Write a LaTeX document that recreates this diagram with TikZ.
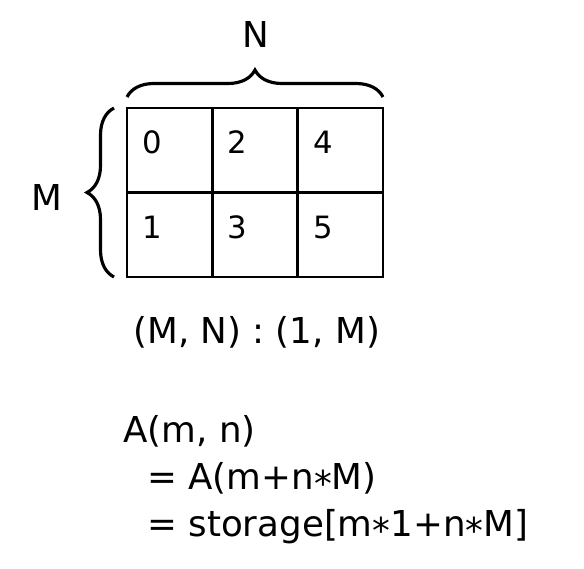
\documentclass[tikz,border=0pt]{standalone}
\usepackage{fontspec}
\setmainfont{DejaVu Sans}
\usetikzlibrary{decorations.pathreplacing}
\newcommand\mul{\raisebox{-0.2em}{*}}
\begin{document}
\begin{tikzpicture}[x=0.02cm,y=-0.02cm,
  txt/.style={inner sep=0pt,font=\fontsize{20.3}{24}\selectfont},
  num/.style={inner sep=0pt,anchor=base west,font=\fontsize{17.5}{20}\selectfont},
  brace/.style={line width=1.8pt,decorate,decoration={brace,amplitude=0.54cm}}]
\useasboundingbox (0,0) rectangle (584,568);

% the M x N matrix, column major
\coordinate (tl) at (127,108);
\coordinate (br) at (383,277);
\draw[line width=1.6pt] (tl) rectangle (br);
\foreach \c in {0,1,2}{
  \foreach \r in {0,1}{
    \pgfmathtruncatemacro{\k}{2*\c+\r}
    \node[num] (c\k) at (127+85.33*\c+15,153+85*\r) {\k};
  }
}
\draw[line width=1.6pt] (212.3,108) -- (212.3,277);
\draw[line width=1.6pt] (297.7,108) -- (297.7,277);
\draw[line width=1.6pt] (127,192.5) -- (383,192.5);

% braces
\coordinate (nl) at (127,97);
\coordinate (nr) at (383,97);
\coordinate (mt) at (114,108);
\coordinate (mb) at (114,277);
\draw[brace] (nl) -- (nr);
\draw[brace] (mb) -- (mt);
\node[txt,anchor=base] (N) at (256,47) {N};
\node[txt,anchor=base] (M) at (47,210) {M};

% layout and index formula
\node[txt,anchor=base west] (layout) at (133,343) {(M, N) : (1, M)};
\node[txt,anchor=base west] (f1) at (123,442) {A(m, n)};
\node[txt,anchor=base west] (f2) at (147,489) {= A(m+n\mul M)};
\node[txt,anchor=base west] (f3) at (147,536) {= storage[m\mul 1+n\mul M]};
\end{tikzpicture}
\end{document}
